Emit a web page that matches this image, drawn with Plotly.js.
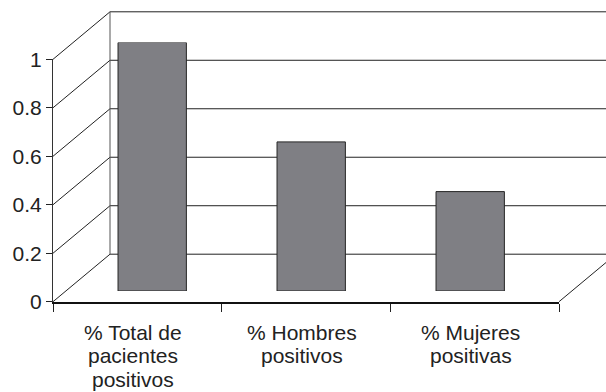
<!DOCTYPE html>
<html>
<head>
<meta charset="utf-8">
<script src="https://cdn.plot.ly/plotly-3.0.1.min.js"></script>
<style>
  html, body { margin: 0; padding: 0; background: #ffffff; }
  #chart { width: 606px; height: 392px; }
</style>
</head>
<body>
<div id="chart"></div>
<script>
// ---- data ----
const categories = ["% Total de<br>pacientes<br>positivos", "% Hombres<br>positivos", "% Mujeres<br>positivas"];
const values = [1, 0.6, 0.4];
const yTicks = [0, 0.2, 0.4, 0.6, 0.8, 1];

// ---- layout geometry (pixels in the 606x392 canvas) ----
const W = 606, H = 392;
const FRONT_LEFT = 53, FRONT_RIGHT = 559;
const FRONT_BOTTOM = 301.7, FRONT_TOP = 59.3;
const DEPTH_DX = 57, DEPTH_DY = 47.5;
const BAR_LEFT = 72.7, BAR_RIGHT = 549.7;
const BAR_BASE = 291, BAR_TOP = 42.5;
const LABEL_FIRST_MID = 332, LABEL_LINE_STEP = 23.7, LABEL_XSHIFT = -4;

const px = x => x / W;
const py = y => 1 - y / H;
const frontY = v => FRONT_BOTTOM - v * (FRONT_BOTTOM - FRONT_TOP);

const lineCol = '#222222';
const shapes = [];
yTicks.forEach(v => {
  const yf = frontY(v), yb = frontY(v) - DEPTH_DY;
  shapes.push({type: 'line', xref: 'paper', yref: 'paper', layer: 'below',
    x0: px(FRONT_LEFT), y0: py(yf), x1: px(FRONT_LEFT + DEPTH_DX), y1: py(yb),
    line: {color: lineCol, width: 1}});
  shapes.push({type: 'line', xref: 'paper', yref: 'paper', layer: 'below',
    x0: px(FRONT_LEFT + DEPTH_DX), y0: py(yb), x1: px(FRONT_RIGHT + DEPTH_DX), y1: py(yb),
    line: {color: lineCol, width: 1}});
});
shapes.push({type: 'line', xref: 'paper', yref: 'paper', layer: 'below',
  x0: px(FRONT_LEFT + DEPTH_DX), y0: py(frontY(0) - DEPTH_DY),
  x1: px(FRONT_LEFT + DEPTH_DX), y1: py(frontY(1) - DEPTH_DY),
  line: {color: '#555555', width: 1}});
shapes.push({type: 'line', xref: 'paper', yref: 'paper', layer: 'below',
  x0: px(FRONT_RIGHT), y0: py(frontY(0)),
  x1: px(FRONT_RIGHT + DEPTH_DX), y1: py(frontY(0) - DEPTH_DY),
  line: {color: lineCol, width: 1}});

const font = {family: '"Liberation Sans", Arial, sans-serif', size: 21, color: '#222222'};

// category labels, one annotation per line (tighter line spacing than tick labels allow)
const annotations = [];
categories.forEach(cat => {
  cat.split('<br>').forEach((line, i) => {
    annotations.push({
      xref: 'x', yref: 'paper', x: cat, y: py(LABEL_FIRST_MID + i * LABEL_LINE_STEP),
      xanchor: 'center', yanchor: 'middle', xshift: LABEL_XSHIFT,
      text: line, showarrow: false, font: font
    });
  });
});

const traces = [
  {
    type: 'scatter', mode: 'markers', x: categories, y: values,
    xaxis: 'x', yaxis: 'y', marker: {opacity: 0}, hoverinfo: 'skip', showlegend: false
  },
  {
    type: 'bar', x: categories, y: values, xaxis: 'x2', yaxis: 'y2',
    width: 0.43,
    marker: {color: '#7f7f84', line: {color: '#262626', width: 1}},
    hoverinfo: 'skip', showlegend: false
  }
];

const layout = {
  width: W, height: H,
  margin: {l: 0, r: 0, t: 0, b: 0, pad: 0},
  paper_bgcolor: '#ffffff', plot_bgcolor: 'rgba(0,0,0,0)',
  font: font,
  showlegend: false,
  xaxis: {
    type: 'category', domain: [px(FRONT_LEFT), px(FRONT_RIGHT)], range: [-0.5, 2.5],
    anchor: 'y', showgrid: false, zeroline: false,
    showline: true, linecolor: '#111111', linewidth: 2,
    ticks: 'outside', tickson: 'boundaries', ticklen: 8, tickwidth: 1, tickcolor: '#222222',
    showticklabels: false, fixedrange: true
  },
  yaxis: {
    domain: [py(FRONT_BOTTOM), py(FRONT_TOP)], range: [0, 1],
    anchor: 'x', showgrid: false, zeroline: false,
    showline: true, linecolor: '#333333', linewidth: 1,
    tickmode: 'array', tickvals: yTicks,
    ticks: 'outside', ticklen: 6, tickwidth: 1, tickcolor: '#222222',
    tickfont: font, fixedrange: true
  },
  xaxis2: {
    type: 'category', domain: [px(BAR_LEFT), px(BAR_RIGHT)], range: [-0.5, 2.5],
    anchor: 'y2', visible: false, fixedrange: true
  },
  yaxis2: {
    domain: [py(BAR_BASE), py(BAR_TOP)], range: [0, 1],
    anchor: 'x2', visible: false, fixedrange: true
  },
  annotations: annotations,
  shapes: shapes
};

Plotly.newPlot('chart', traces, layout, {displayModeBar: false, staticPlot: true});
</script>
</body>
</html>
